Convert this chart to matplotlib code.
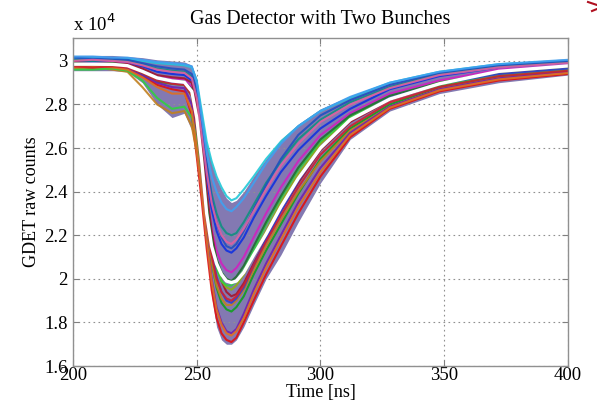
import numpy as np
import matplotlib.pyplot as plt
from matplotlib.lines import Line2D
from matplotlib.ticker import FuncFormatter

plt.rcParams['font.family'] = ['Liberation Serif', 'DejaVu Serif']

# sample times [ns]
t_ns = [200, 208, 216, 222, 228, 234, 240, 245, 248, 250, 252, 254, 256, 258,
        260, 262, 264, 266, 269, 273, 278, 284, 291, 300, 312, 328, 348, 372, 400]

# GDET raw counts, in units of 1e4
mean_counts = [2.985, 2.985, 2.984, 2.978, 2.952, 2.922, 2.908, 2.902, 2.86, 2.74,
               2.54, 2.30, 2.15, 2.07, 2.02, 1.99, 1.983, 1.99, 2.03, 2.11,
               2.205, 2.33, 2.46, 2.60, 2.73, 2.825, 2.895, 2.952, 2.977]
upper_counts = [3.025, 3.025, 3.025, 3.02, 3.015, 3.005, 3.0, 2.995, 2.98, 2.92,
                2.76, 2.62, 2.53, 2.46, 2.41, 2.37, 2.35, 2.36, 2.40, 2.47,
                2.55, 2.64, 2.71, 2.78, 2.84, 2.905, 2.955, 2.99, 3.01]
lower_counts = [2.955, 2.955, 2.955, 2.95, 2.90, 2.80, 2.74, 2.76, 2.68, 2.55,
                2.38, 2.12, 1.92, 1.78, 1.72, 1.70, 1.70, 1.72, 1.78, 1.88,
                2.0, 2.11, 2.26, 2.44, 2.64, 2.77, 2.85, 2.90, 2.935]

shot_a = [2.97, 2.965, 2.97, 2.96, 2.93, 2.89, 2.87, 2.86, 2.75, 2.56, 2.36, 2.14, 1.95, 1.82,
          1.75, 1.72, 1.71, 1.73, 1.80, 1.90, 2.02, 2.15, 2.30, 2.47, 2.65, 2.78, 2.86, 2.91, 2.94]
shot_b = [3.01, 3.015, 3.005, 3.01, 3.0, 2.99, 2.985, 2.98, 2.97, 2.91, 2.77, 2.63, 2.54, 2.47,
          2.42, 2.38, 2.36, 2.37, 2.41, 2.47, 2.55, 2.63, 2.70, 2.77, 2.83, 2.90, 2.95, 2.985, 3.0]
shot_c = [3.0, 2.995, 3.0, 2.99, 2.975, 2.95, 2.94, 2.935, 2.91, 2.82, 2.64, 2.46, 2.32, 2.22,
          2.16, 2.13, 2.12, 2.14, 2.19, 2.28, 2.38, 2.49, 2.59, 2.69, 2.78, 2.87, 2.93, 2.97, 2.99]
shot_d = [2.98, 2.985, 2.975, 2.97, 2.94, 2.905, 2.895, 2.89, 2.84, 2.68, 2.47, 2.26, 2.08, 1.96,
          1.89, 1.86, 1.85, 1.87, 1.92, 2.02, 2.13, 2.25, 2.39, 2.55, 2.69, 2.80, 2.88, 2.93, 2.955]
shot_e = [2.99, 2.99, 2.995, 2.985, 2.96, 2.93, 2.92, 2.915, 2.88, 2.77, 2.58, 2.38, 2.23, 2.13,
          2.07, 2.04, 2.03, 2.05, 2.10, 2.19, 2.30, 2.42, 2.54, 2.66, 2.76, 2.85, 2.91, 2.96, 2.98]
shot_f = [2.965, 2.97, 2.96, 2.95, 2.88, 2.80, 2.76, 2.77, 2.70, 2.58, 2.42, 2.24, 2.08, 1.97,
          1.91, 1.88, 1.88, 1.90, 1.95, 2.04, 2.15, 2.27, 2.40, 2.54, 2.68, 2.79, 2.87, 2.92, 2.945]
shot_g = [2.975, 2.98, 2.98, 2.965, 2.935, 2.90, 2.88, 2.875, 2.80, 2.62, 2.41, 2.19, 2.0, 1.87,
          1.80, 1.76, 1.75, 1.77, 1.84, 1.95, 2.07, 2.20, 2.35, 2.51, 2.67, 2.79, 2.87, 2.92, 2.95]
shot_h = [2.995, 2.99, 2.99, 2.985, 2.965, 2.935, 2.925, 2.92, 2.90, 2.80, 2.61, 2.40, 2.22, 2.08,
          1.99, 1.94, 1.92, 1.93, 1.98, 2.07, 2.18, 2.31, 2.44, 2.59, 2.72, 2.82, 2.89, 2.94, 2.965]
shot_i = [3.005, 3.0, 3.005, 3.0, 2.985, 2.965, 2.955, 2.95, 2.93, 2.85, 2.69, 2.52, 2.39, 2.30,
          2.24, 2.21, 2.20, 2.21, 2.26, 2.34, 2.44, 2.54, 2.64, 2.73, 2.81, 2.88, 2.94, 2.975, 2.995]
shot_j = [2.98, 2.975, 2.98, 2.975, 2.95, 2.915, 2.90, 2.895, 2.86, 2.72, 2.52, 2.32, 2.16, 2.05,
          1.99, 1.96, 1.95, 1.97, 2.02, 2.11, 2.22, 2.35, 2.48, 2.62, 2.74, 2.83, 2.90, 2.945, 2.97]
shot_k = [3.015, 3.01, 3.01, 3.005, 2.99, 2.975, 2.965, 2.96, 2.94, 2.87, 2.71, 2.53, 2.37, 2.26,
          2.19, 2.15, 2.14, 2.16, 2.22, 2.32, 2.43, 2.55, 2.66, 2.75, 2.82, 2.89, 2.945, 2.98, 3.0]
shot_l = [2.96, 2.96, 2.965, 2.955, 2.91, 2.83, 2.78, 2.79, 2.74, 2.64, 2.48, 2.30, 2.15, 2.05,
          1.99, 1.97, 1.97, 1.99, 2.04, 2.13, 2.25, 2.37, 2.50, 2.63, 2.74, 2.83, 2.89, 2.935, 2.96]
shot_m = [2.97, 2.975, 2.97, 2.96, 2.925, 2.88, 2.85, 2.85, 2.77, 2.60, 2.40, 2.18, 1.99, 1.86,
          1.79, 1.75, 1.74, 1.76, 1.82, 1.93, 2.05, 2.18, 2.33, 2.49, 2.66, 2.785, 2.865, 2.915, 2.945]
shot_n = [3.02, 3.02, 3.015, 3.015, 3.005, 2.995, 2.99, 2.985, 2.975, 2.90, 2.74, 2.58, 2.47, 2.40,
          2.35, 2.32, 2.31, 2.33, 2.37, 2.44, 2.53, 2.62, 2.70, 2.77, 2.835, 2.90, 2.95, 2.985, 3.005]
shot_o = [2.99, 2.985, 2.99, 2.98, 2.955, 2.925, 2.91, 2.905, 2.87, 2.75, 2.56, 2.35, 2.19, 2.09,
          2.03, 2.0, 1.99, 2.01, 2.06, 2.15, 2.26, 2.38, 2.51, 2.64, 2.75, 2.84, 2.90, 2.95, 2.975]
shot_p = [3.0, 3.005, 3.0, 2.995, 2.98, 2.96, 2.95, 2.945, 2.92, 2.83, 2.66, 2.49, 2.35, 2.26,
          2.20, 2.17, 2.16, 2.18, 2.23, 2.31, 2.41, 2.52, 2.62, 2.72, 2.80, 2.875, 2.935, 2.97, 2.99]
shot_q = [2.985, 2.99, 2.985, 2.975, 2.95, 2.915, 2.90, 2.895, 2.86, 2.73, 2.53, 2.31, 2.13, 2.01,
          1.94, 1.90, 1.89, 1.91, 1.96, 2.06, 2.18, 2.31, 2.45, 2.60, 2.73, 2.83, 2.895, 2.94, 2.965]
shot_r = [2.975, 2.97, 2.975, 2.97, 2.945, 2.91, 2.895, 2.89, 2.84, 2.70, 2.50, 2.28, 2.11, 2.0,
          1.94, 1.91, 1.90, 1.92, 1.97, 2.06, 2.17, 2.29, 2.42, 2.57, 2.70, 2.81, 2.88, 2.93, 2.955]

shots = [shot_a, shot_b, shot_c, shot_d, shot_e, shot_f, shot_g, shot_h, shot_i,
         shot_j, shot_k, shot_l, shot_m, shot_n, shot_o, shot_p, shot_q, shot_r]
shot_colors = ['#e01010', '#20c8d8', '#1030e0', '#10a020', '#d020c0', '#c08020',
               '#7020b0', '#a01830', '#109080', '#90b010', '#2050c0', '#30d040',
               '#e07020', '#40a0f0', '#207030', '#e060a0', '#3040d0', '#d02030']


def main():
    fig = plt.figure(figsize=(5.97, 4.15), dpi=100)
    ax = fig.add_axes([0.1223, 0.118, 0.8291, 0.7904])

    # shot-to-shot spread
    ax.fill_between(t_ns, lower_counts, upper_counts, color='#5a4c98', alpha=0.75, lw=0)
    for trace, col in zip(shots, shot_colors):
        ax.plot(t_ns, trace, color=col, lw=1.5, alpha=0.9)
    ax.plot(t_ns, mean_counts, color='white', lw=2.4)

    ax.set_xlim(200, 400)
    ax.set_ylim(1.6, 3.105)
    ax.set_xticks(np.arange(200, 401, 50))
    ax.set_yticks(np.arange(1.6, 3.01, 0.2))
    ax.yaxis.set_major_formatter(FuncFormatter(lambda v, p: '%g' % round(v, 1)))
    ax.tick_params(direction='in', length=4, width=0.8, color='#808080',
                   labelsize=13.5, pad=1, top=True, right=True)
    ax.tick_params(axis='y', pad=4)
    ax.grid(True, linestyle=(0, (1.5, 3)), color='#909090', lw=0.8)
    for s in ax.spines.values():
        s.set_color('#909090')
        s.set_linewidth(1.0)

    ax.set_title('Gas Detector with Two Bunches', fontsize=14.5, pad=10)
    ax.set_xlabel('Time [ns]', fontsize=13, labelpad=0)
    ax.set_ylabel('GDET raw counts', fontsize=13, labelpad=3)
    ax.text(0.0, 1.008, r'x 10$^4$', transform=ax.transAxes, fontsize=13.5,
            ha='left', va='bottom')

    # small red corner mark
    fig.add_artist(Line2D([588 / 597, 597 / 597], [1 - 2 / 415, 1 - 5 / 415],
                          color='#b01020', lw=1.5))
    fig.add_artist(Line2D([592 / 597, 597 / 597], [1 - 11 / 415, 1 - 9 / 415],
                          color='#b01020', lw=1.5))

    fig.savefig('out.png', dpi=100)


if __name__ == '__main__':
    main()
